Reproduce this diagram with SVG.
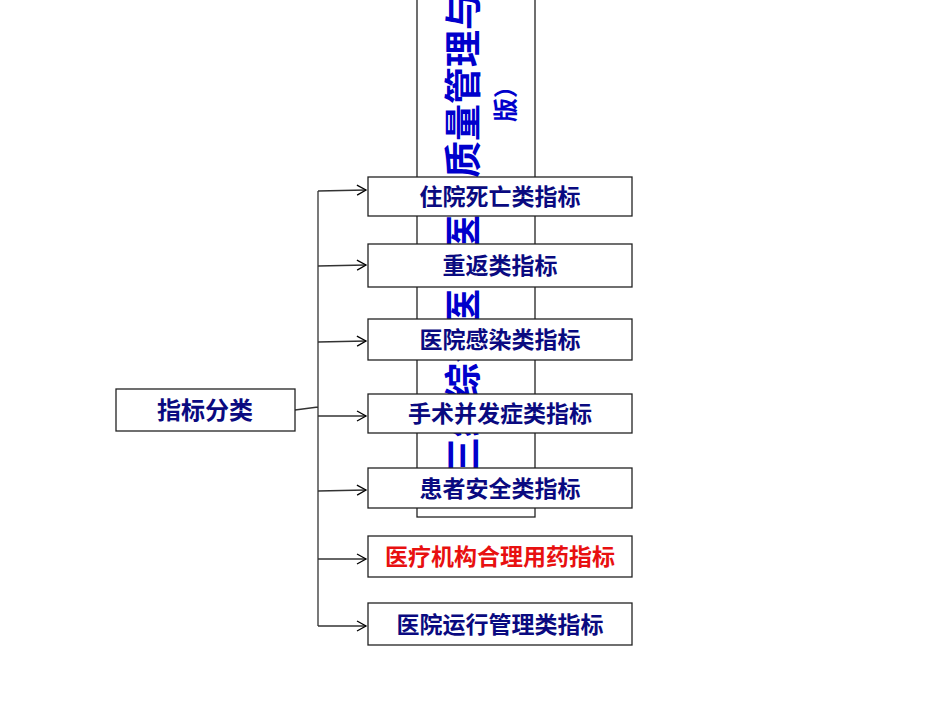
<svg xmlns="http://www.w3.org/2000/svg" width="950" height="713" viewBox="0 0 950 713">
<style>
.b{fill:#fff;stroke:#222;stroke-width:1.3}
.t{font-family:"Noto Sans CJK SC",sans-serif;font-weight:bold;font-size:23px;fill:#0a0a80;text-anchor:middle}
.c{stroke:#333;stroke-width:1.3;fill:none}
</style>
<defs><marker id="a" markerWidth="12" markerHeight="12" refX="10" refY="6" orient="auto" markerUnits="userSpaceOnUse"><path d="M1,1 L10,6 L1,11" fill="none" stroke="#000" stroke-width="1.3"/></marker></defs>
<g id="vbox">
<rect x="417" y="-2" width="118" height="519" class="b"/>
<text transform="translate(477,474) rotate(-90)" style="font-family:'Noto Sans CJK SC',sans-serif;font-weight:bold;font-size:37px;fill:#0000cc">三级综合医院医疗质量管理与</text>
<text transform="translate(514,122) rotate(-90)" style="font-family:'Noto Sans CJK SC',sans-serif;font-weight:bold;font-size:24px;fill:#0000cc">版）</text>
</g>
<g id="connectors">
<path class="c" d="M295,410 L318,407 M318,191 L318,626"/>
<path class="c" marker-end="url(#a)" d="M318,191 L366,190"/>
<path class="c" marker-end="url(#a)" d="M318,266 L366,265"/>
<path class="c" marker-end="url(#a)" d="M318,342 L366,341"/>
<path class="c" marker-end="url(#a)" d="M318,416 L366,416"/>
<path class="c" marker-end="url(#a)" d="M318,491 L366,490"/>
<path class="c" marker-end="url(#a)" d="M318,559 L366,559"/>
<path class="c" marker-end="url(#a)" d="M318,626 L366,626"/>
</g>
<g id="root"><rect x="116" y="389" width="179" height="42" class="b"/><text x="205" y="419" class="t" style="font-size:24px">指标分类</text></g>
<g id="n1"><rect x="368" y="177" width="264" height="39" class="b"/><text x="500" y="205" class="t">住院死亡类指标</text></g>
<g id="n2"><rect x="368" y="244" width="264" height="43" class="b"/><text x="500" y="274" class="t">重返类指标</text></g>
<g id="n3"><rect x="368" y="319" width="264" height="41" class="b"/><text x="500" y="348" class="t">医院感染类指标</text></g>
<g id="n4"><rect x="368" y="394" width="264" height="39" class="b"/><text x="500" y="422" class="t">手术并发症类指标</text></g>
<g id="n5"><rect x="368" y="468" width="264" height="40" class="b"/><text x="500" y="497" class="t">患者安全类指标</text></g>
<g id="n6"><rect x="368" y="536" width="264" height="41" class="b"/><text x="500" y="565" class="t" style="fill:#e81010">医疗机构合理用药指标</text></g>
<g id="n7"><rect x="368" y="603" width="264" height="42" class="b"/><text x="500" y="633" class="t">医院运行管理类指标</text></g>
</svg>
